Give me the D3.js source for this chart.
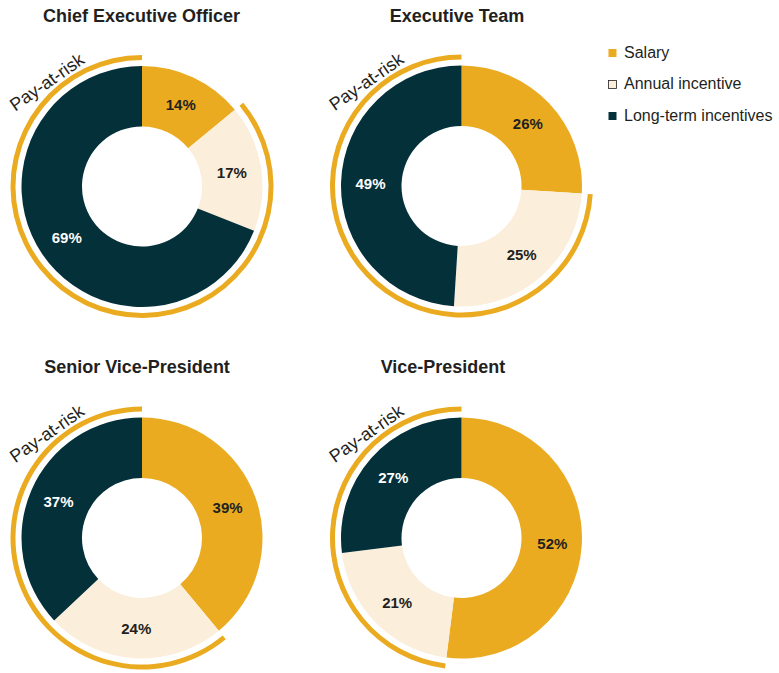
<!DOCTYPE html>
<html>
<head>
<meta charset="utf-8">
<script src="https://cdn.jsdelivr.net/npm/d3@7"></script>
<style>
  body { margin: 0; background: #fff; }
  text { font-family: "Liberation Sans", Arial, sans-serif; }
</style>
</head>
<body>
<svg id="chart"></svg>
<script>
var width = 779;
var height = 673;

// data
var titles = ["Chief Executive Officer", "Executive Team", "Senior Vice-President", "Vice-President"];
var categories = ["Salary", "Annual incentive", "Long-term incentives"];
var salary = [14, 26, 39, 52];
var annual = [17, 25, 24, 21];
var longTerm = [69, 49, 37, 27];
var riskLabel = "Pay-at-risk";

// layout of the four panels
var panels = [
    {cx: 142, cy: 186.5, tx: 141.5, ty: 22},
    {cx: 461.5, cy: 186, tx: 457, ty: 22},
    {cx: 142, cy: 538, tx: 137, ty: 373},
    {cx: 461.5, cy: 538, tx: 443, ty: 373}
];

var colors = d3.scaleOrdinal()
    .domain(categories)
    .range(["#EBAB21", "#FBEEDB", "#04303A"]);
var labelColors = d3.scaleOrdinal()
    .domain(categories)
    .range(["#231F20", "#231F20", "#ffffff"]);
var dark = "#231F20";

var svg = d3.select("#chart")
    .attr("width", width)
    .attr("height", height);

var pie = d3.pie().sort(null).value(function(d) { return d.value; });
var arc = d3.arc().innerRadius(60).outerRadius(120.5);
var riskArc = d3.arc().innerRadius(126.5).outerRadius(131.5);
var labelArc = d3.arc().innerRadius(91).outerRadius(91);

titles.forEach(function(title, i) {
    var p = panels[i];
    var values = [salary[i], annual[i], longTerm[i]].map(function(v, k) {
        return {cat: categories[k], value: v};
    });
    var slices = pie(values);

    svg.append("text")
        .attr("x", p.tx)
        .attr("y", p.ty)
        .attr("text-anchor", "middle")
        .style("font-size", "18px")
        .style("font-weight", "bold")
        .style("fill", dark)
        .text(title);

    var g = svg.append("g")
        .attr("transform", `translate(${p.cx},${p.cy})`);

    g.selectAll("path.slice")
        .data(slices)
        .enter()
        .append("path")
        .attr("class", "slice")
        .attr("d", arc)
        .attr("fill", function(d) { return colors(d.data.cat); });

    // pay-at-risk = annual + long-term, from end of salary to the top
    g.append("path")
        .attr("d", riskArc({startAngle: slices[0].endAngle, endAngle: 2 * Math.PI}))
        .attr("fill", colors("Salary"));

    g.append("text")
        .attr("transform", "rotate(-35)")
        .attr("x", -61)
        .attr("y", -134)
        .style("font-size", "18px")
        .style("fill", dark)
        .text(riskLabel);

    g.selectAll("text.pct")
        .data(slices)
        .enter()
        .append("text")
        .attr("class", "pct")
        .attr("transform", function(d) { return `translate(${labelArc.centroid(d)})`; })
        .attr("text-anchor", "middle")
        .attr("dy", "0.36em")
        .style("font-size", "15px")
        .style("font-weight", "bold")
        .style("fill", function(d) { return labelColors(d.data.cat); })
        .text(function(d) { return d.data.value + "%"; });
});

// legend
var legend = svg.append("g")
    .attr("transform", "translate(608.5,0)");
var legendY = d3.scalePoint()
    .domain(categories)
    .range([53, 116]);

legend.selectAll("rect")
    .data(categories)
    .enter()
    .append("rect")
    .attr("x", 0)
    .attr("y", function(d) { return legendY(d) - 4; })
    .attr("width", 8)
    .attr("height", 8)
    .attr("fill", function(d) { return colors(d); })
    .attr("stroke", function(d) { return d === "Annual incentive" ? "#231F20" : "none"; })
    .attr("stroke-width", 0.8);

legend.selectAll("text")
    .data(categories)
    .enter()
    .append("text")
    .attr("x", 15.5)
    .attr("y", function(d) { return legendY(d) + 4.5; })
    .style("font-size", "16px")
    .style("fill", dark)
    .text(function(d) { return d; });
</script>
</body>
</html>
